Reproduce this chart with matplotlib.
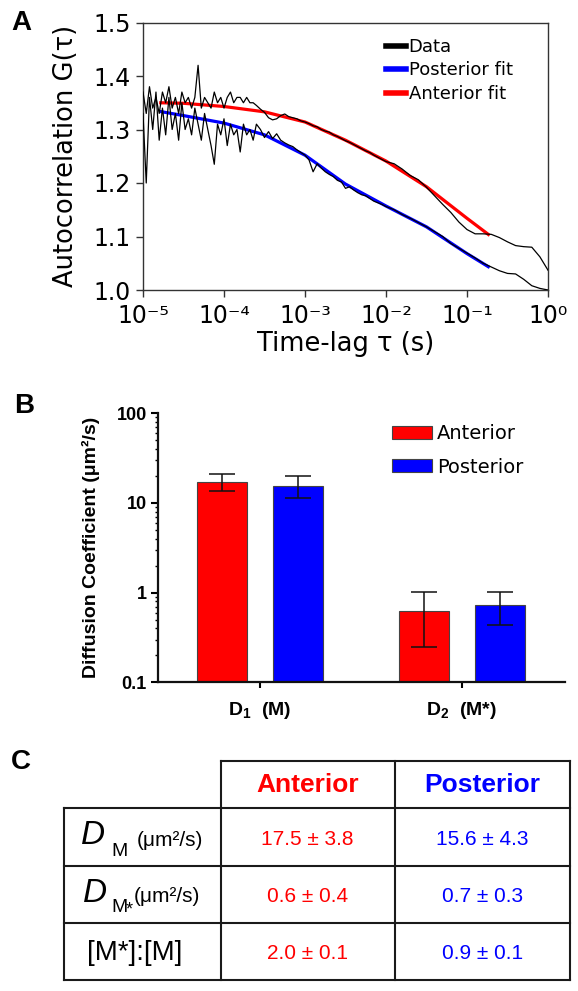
import matplotlib
matplotlib.use('Agg')
import matplotlib.pyplot as plt
import numpy as np
from matplotlib.lines import Line2D
from matplotlib.ticker import FixedLocator, NullLocator, FixedFormatter

plt.rcParams['font.family'] = ['Liberation Sans', 'DejaVu Sans']
plt.rcParams['mathtext.fontset'] = 'custom'
plt.rcParams['mathtext.rm'] = 'Liberation Sans'
plt.rcParams['mathtext.it'] = 'Liberation Sans:italic'
plt.rcParams['mathtext.bf'] = 'Liberation Sans:bold'
WIDE = ['DejaVu Sans']

# ---------------- data: panel A ----------------
tau_log = [-5.00, -4.96, -4.92, -4.88, -4.84, -4.80, -4.76, -4.72, -4.68, -4.64, -4.60, -4.56,
           -4.52, -4.48, -4.44, -4.40, -4.36, -4.32, -4.28, -4.24, -4.20, -4.16, -4.12, -4.08,
           -4.04, -4.00, -3.96, -3.92, -3.88, -3.84, -3.80, -3.76, -3.72, -3.68, -3.64, -3.60,
           -3.55, -3.50, -3.45, -3.40, -3.35, -3.30, -3.25, -3.20, -3.15, -3.10, -3.05, -3.00,
           -2.95, -2.90, -2.85, -2.80, -2.75, -2.70, -2.65, -2.60, -2.55, -2.50, -2.45, -2.40,
           -2.35, -2.30, -2.25, -2.20, -2.15, -2.10, -2.05, -2.00,
           -1.90, -1.80, -1.70, -1.60, -1.50, -1.40, -1.30, -1.20, -1.10, -1.00,
           -0.90, -0.80, -0.70, -0.60, -0.50, -0.40, -0.30, -0.20, -0.10, 0.00]

data_anterior = [1.37, 1.33, 1.38, 1.34, 1.36, 1.33, 1.37, 1.35, 1.38, 1.34, 1.36, 1.33,
                 1.37, 1.35, 1.36, 1.34, 1.36, 1.42, 1.34, 1.36, 1.35, 1.34, 1.37, 1.35,
                 1.36, 1.34, 1.36, 1.37, 1.35, 1.36, 1.36, 1.35, 1.36, 1.35, 1.35, 1.345,
                 1.338, 1.332, 1.322, 1.318, 1.320, 1.326, 1.329, 1.324, 1.322, 1.320, 1.316, 1.314,
                 1.311, 1.307, 1.305, 1.300, 1.297, 1.295, 1.290, 1.287, 1.283, 1.279, 1.276, 1.272,
                 1.268, 1.264, 1.260, 1.257, 1.252, 1.248, 1.244, 1.240,
                 1.236, 1.226, 1.214, 1.206, 1.192, 1.176, 1.160, 1.145, 1.127, 1.113,
                 1.105, 1.105, 1.104, 1.098, 1.090, 1.083, 1.081, 1.080, 1.062, 1.037]

data_posterior = [1.33, 1.20, 1.36, 1.30, 1.37, 1.28, 1.34, 1.29, 1.36, 1.30, 1.33, 1.28,
                  1.35, 1.30, 1.32, 1.29, 1.34, 1.31, 1.28, 1.33, 1.30, 1.27, 1.235, 1.31,
                  1.29, 1.32, 1.27, 1.31, 1.29, 1.30, 1.258, 1.31, 1.29, 1.30, 1.28, 1.31,
                  1.300, 1.285, 1.296, 1.283, 1.292, 1.280, 1.275, 1.271, 1.268, 1.262, 1.257, 1.252,
                  1.243, 1.221, 1.236, 1.228, 1.221, 1.216, 1.212, 1.205, 1.202, 1.190, 1.193, 1.187,
                  1.182, 1.178, 1.176, 1.171, 1.166, 1.163, 1.160, 1.156,
                  1.150, 1.141, 1.134, 1.126, 1.118, 1.109, 1.100, 1.087, 1.078, 1.069,
                  1.060, 1.050, 1.043, 1.036, 1.031, 1.030, 1.020, 1.008, 1.003, 1.000]

fit_log = [-4.80, -4.50, -4.00, -3.50, -3.00, -2.50, -2.00, -1.50, -1.00, -0.72]
fit_anterior = [1.350, 1.349, 1.343, 1.333, 1.314, 1.280, 1.241, 1.193, 1.134, 1.102]
fit_posterior = [1.334, 1.326, 1.312, 1.290, 1.252, 1.198, 1.157, 1.118, 1.068, 1.042]

legend_a = ['Data', 'Posterior fit', 'Anterior fit']
x_ticks_a = [-5, -4, -3, -2, -1, 0]
x_ticklabels_a = ['10⁻⁵', '10⁻⁴', '10⁻³', '10⁻²', '10⁻¹', '10⁰']
y_ticks_a = [1.0, 1.1, 1.2, 1.3, 1.4, 1.5]

# ---------------- data: panel B ----------------
categories_b = [r'$\mathbf{D_1}$  (M)', r'$\mathbf{D_2}$  (M*)']
anterior_vals = [17.3, 0.63]
anterior_err = [3.8, 0.38]
posterior_vals = [15.6, 0.73]
posterior_err = [4.2, 0.29]
y_ticks_b = [0.1, 1, 10, 100]
y_ticklabels_b = ['0.1', '1', '10', '100']

# ---------------- data: panel C ----------------
col_headers = ['Anterior', 'Posterior']
ant_text = ['17.5 ± 3.8', '0.6 ± 0.4', '2.0 ± 0.1']
post_text = ['15.6 ± 4.3', '0.7 ± 0.3', '0.9 ± 0.1']

RED = '#ff0000'
BLUE = '#0000ff'

W, H = 578, 991
fig = plt.figure(figsize=(W / 100, H / 100), dpi=100)


def rect(l, t, r, b):
    return [l / W, 1 - b / H, (r - l) / W, (b - t) / H]


# ================= Panel A =================
axA = fig.add_axes(rect(143, 22.5, 548, 290))
t = 10 ** np.array(tau_log)
tf = 10 ** np.array(fit_log)
axA.plot(tf, fit_posterior, color=BLUE, lw=2.3, zorder=2, solid_capstyle='butt')
axA.plot(tf, fit_anterior, color=RED, lw=2.3, zorder=2, solid_capstyle='butt')
axA.plot(t, data_anterior, color='black', lw=0.9, zorder=3)
axA.plot(t, data_posterior, color='black', lw=0.9, zorder=3)
axA.set_xscale('log')
axA.set_xlim(1e-5, 1)
axA.set_ylim(1.0, 1.5)
axA.xaxis.set_major_locator(FixedLocator([10.0 ** k for k in x_ticks_a]))
axA.xaxis.set_major_formatter(FixedFormatter(x_ticklabels_a))
axA.xaxis.set_minor_locator(NullLocator())
axA.set_yticks(y_ticks_a)
axA.set_yticklabels(['%.1f' % v for v in y_ticks_a])
axA.tick_params(axis='both', which='major', direction='out', length=5, width=1.0,
                labelsize=17, color='#333333')
axA.tick_params(axis='x', pad=5)
axA.tick_params(axis='y', pad=4)
for lab in axA.get_xticklabels() + axA.get_yticklabels():
    lab.set_family(WIDE)
for s in axA.spines.values():
    s.set_linewidth(1.0)
    s.set_color('#333333')
axA.set_ylabel('Autocorrelation G(τ)', fontsize=18.5, family=WIDE, labelpad=10)
axA.set_xlabel('Time-lag τ (s)', fontsize=18.5, family=WIDE, labelpad=2)
handles = [Line2D([], [], color='black', lw=4),
           Line2D([], [], color=BLUE, lw=4),
           Line2D([], [], color=RED, lw=4)]
axA.legend(handles, legend_a, loc='upper left', bbox_to_anchor=(386 / W, 1 - 38 / H),
           bbox_transform=fig.transFigure, frameon=False, prop={'family': WIDE, 'size': 13},
           handlelength=1.1, handletextpad=0.15, labelspacing=0.3, borderpad=0,
           borderaxespad=0)

# ================= Panel B =================
axB = fig.add_axes(rect(158, 413.3, 565, 682.3))
xc = np.arange(len(categories_b))
off, bw = 0.188, 0.25
axB.bar(xc - off, anterior_vals, bw, color=RED, edgecolor='#444444', lw=0.8, zorder=2,
        label='Anterior')
axB.bar(xc + off, posterior_vals, bw, color=BLUE, edgecolor='#444444', lw=0.8, zorder=2,
        label='Posterior')
axB.errorbar(xc - off, anterior_vals, yerr=anterior_err, fmt='none', ecolor='#111111',
             elinewidth=1.1, capsize=9.3, capthick=1.1, zorder=3)
axB.errorbar(xc + off, posterior_vals, yerr=posterior_err, fmt='none', ecolor='#111111',
             elinewidth=1.1, capsize=9.3, capthick=1.1, zorder=3)
axB.set_yscale('log')
axB.set_ylim(0.1, 100)
axB.set_xlim(-0.504, 1.511)
axB.set_yticks(y_ticks_b)
axB.set_yticklabels(y_ticklabels_b, fontweight='bold')
axB.yaxis.set_minor_locator(FixedLocator([m * 10.0 ** e for e in [-1, 0, 1] for m in range(2, 10)]))
axB.set_xticks(xc)
axB.set_xticklabels(categories_b, fontweight='bold', fontsize=14)
axB.tick_params(axis='y', which='major', direction='out', length=5, width=1.5, labelsize=13, pad=3)
axB.tick_params(axis='y', which='minor', direction='out', length=2.5, width=1.0)
axB.tick_params(axis='x', which='major', direction='out', length=4, width=1.5, pad=9)
for side in ['top', 'right']:
    axB.spines[side].set_visible(False)
for side in ['left', 'bottom']:
    axB.spines[side].set_linewidth(1.6)
    axB.spines[side].set_color('#111111')
axB.set_ylabel('Diffusion Coefficient (μm²/s)', fontsize=14, fontweight='bold', labelpad=12)
axB.legend(loc='upper left', bbox_to_anchor=(392 / W, 1 - 424 / H),
           bbox_transform=fig.transFigure, frameon=False, prop={'family': WIDE, 'size': 14},
           handlelength=2.05, handleheight=0.68, handletextpad=0.25,
           labelspacing=0.75, borderpad=0, borderaxespad=0)

# ================= Panel C (table) =================
axC = fig.add_axes([0, 0, 1, 1])
axC.set_xlim(0, W)
axC.set_ylim(H, 0)
axC.axis('off')
axC.patch.set_alpha(0)
lw_t = 1.5
lc = '#1a1a1a'
xL, x1, x2, x3 = 63.6, 220.6, 394.6, 569.8
y0, y1, y2, y3, y4 = 760.7, 808.3, 866.0, 923.3, 980.0
axC.plot([x1, x3], [y0, y0], color=lc, lw=lw_t)
for yy in [y1, y2, y3, y4]:
    axC.plot([xL, x3], [yy, yy], color=lc, lw=lw_t)
axC.plot([xL, xL], [y1, y4], color=lc, lw=lw_t)
for xx in [x1, x2, x3]:
    axC.plot([xx, xx], [y0, y4], color=lc, lw=lw_t)

hdr_colors = [RED, BLUE]
col_centers = [(x1 + x2) / 2, (x2 + x3) / 2]
for hdr, cx, c in zip(col_headers, col_centers, hdr_colors):
    axC.text(cx, (y0 + y1) / 2 + 1, hdr, color=c, fontsize=19, fontweight='bold',
             ha='center', va='center')
row_centers = [(y1 + y2) / 2 + 2, (y2 + y3) / 2 + 2, (y3 + y4) / 2 + 2]
for txt, yy in zip(ant_text, row_centers):
    axC.text(col_centers[0], yy, txt, color=RED, fontsize=15, ha='center', va='center')
for txt, yy in zip(post_text, row_centers):
    axC.text(col_centers[1], yy, txt, color=BLUE, fontsize=15, ha='center', va='center')

# row labels
axC.text(81, 836, 'D', fontsize=24, style='italic', ha='left', va='center')
axC.text(111, 852, 'M', fontsize=14, ha='left', va='center')
axC.text(137, 840, '(μm²/s)', fontsize=15, ha='left', va='center')
axC.text(83, 893, 'D', fontsize=24, style='italic', ha='left', va='center')
axC.text(111, 907, 'M', fontsize=14, ha='left', va='center')
axC.text(126, 910, '*', fontsize=13, ha='left', va='center')
axC.text(134, 896, '(μm²/s)', fontsize=15, ha='left', va='center')
axC.text(135, 953, '[M*]:[M]', fontsize=20, ha='center', va='center')

# panel letters
for letter, (px, py) in zip(['A', 'B', 'C'], [(11, 23), (14, 406), (11, 762)]):
    fig.text(px / W, 1 - py / H, letter, fontsize=20, fontweight='bold', ha='left', va='center')

fig.savefig('out.png', dpi=100)
